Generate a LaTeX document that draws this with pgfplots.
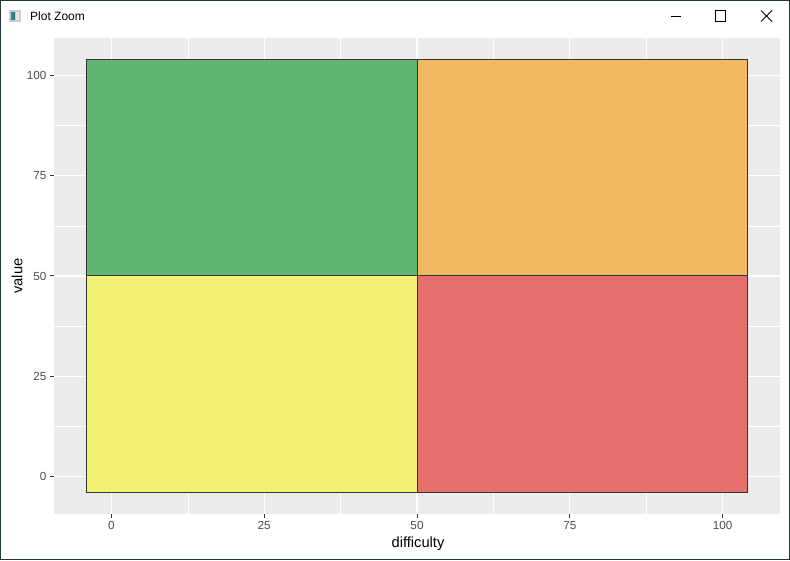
\documentclass[border=0pt]{standalone}
\usepackage{pgfplots}
\pgfplotsset{compat=1.18}
\usepackage{fontspec}
\setmainfont{Liberation Sans}
\definecolor{panelbg}{HTML}{EBEBEB}
\definecolor{frame}{HTML}{1F3B3A}
\definecolor{gfill}{HTML}{5FB671}
\definecolor{ofill}{HTML}{F0B962}
\definecolor{yfill}{HTML}{F4F276}
\definecolor{rfill}{HTML}{E6706E}
\definecolor{edge}{HTML}{333333}
\definecolor{ticklab}{HTML}{4D4D4D}
\begin{document}
\begin{tikzpicture}
\useasboundingbox (0pt,0pt) rectangle (790pt,560pt);
\fill[white] (0pt,0pt) rectangle (790pt,560pt);
\draw[frame,line width=1.2pt] (0.6pt,0.6pt) rectangle (789.4pt,559.4pt);
% title bar
\node[anchor=west,font=\fontsize{12}{14}\selectfont,inner sep=0] at (30pt,544pt) {Plot Zoom};
\fill[gray!40] (9pt,538pt) rectangle (21pt,550pt);
\fill[teal!60!gray] (11pt,540pt) rectangle (15pt,548pt);
\fill[gray!20] (16pt,540pt) rectangle (19pt,548pt);
\draw[black,line width=0.8pt] (671pt,544pt) -- (681pt,544pt);
\draw[black,line width=0.8pt] (715.5pt,538.5pt) rectangle (725.5pt,549.5pt);
\draw[black,line width=0.8pt] (761pt,538.5pt) -- (772pt,549.5pt) (761pt,549.5pt) -- (772pt,538.5pt);
\begin{axis}[
  at={(54pt,46pt)}, anchor=south west,
  scale only axis, width=726pt, height=476pt,
  xmin=-9.4, xmax=109.4, ymin=-9.4, ymax=109.4,
  axis background/.style={fill=panelbg},
  axis line style={draw=none},
  xtick={0,25,50,75,100}, xticklabels={0,25,50,75,100},
  ytick={0,25,50,75,100}, yticklabels={0,25,50,75,100},
  minor xtick={12.5,37.5,62.5,87.5},
  minor ytick={12.5,37.5,62.5,87.5},
  grid=both,
  major grid style={white,line width=1.1pt},
  minor grid style={white,line width=0.55pt},
  tick align=outside, tick pos=left,
  major tick length=4pt, minor tick length=0pt,
  tick style={edge,line width=1pt},
  ticklabel style={font=\fontsize{11.7}{13}\selectfont, text=ticklab},
]
\addplot[fill=yfill,draw=edge,line width=1pt] coordinates {(-4,-4) (50,-4) (50,50) (-4,50)} -- cycle;
\addplot[fill=rfill,draw=edge,line width=1pt] coordinates {(50,-4) (104,-4) (104,50) (50,50)} -- cycle;
\addplot[fill=gfill,draw=edge,line width=1pt] coordinates {(-4,50) (50,50) (50,104) (-4,104)} -- cycle;
\addplot[fill=ofill,draw=edge,line width=1pt] coordinates {(50,50) (104,50) (104,104) (50,104)} -- cycle;
\end{axis}
\node[font=\fontsize{14.7}{16}\selectfont,inner sep=0] at (418pt,16pt) {difficulty};
\node[font=\fontsize{14.7}{16}\selectfont,inner sep=0,rotate=90] at (17pt,284pt) {value};
\end{tikzpicture}
\end{document}
